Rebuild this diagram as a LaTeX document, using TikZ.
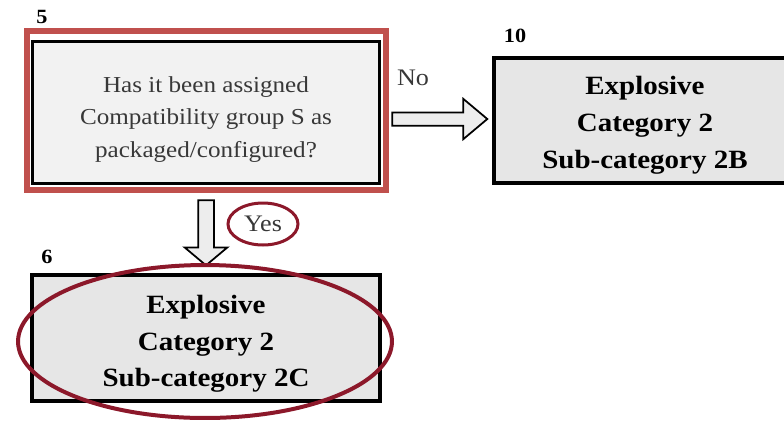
\documentclass[tikz,border=0pt]{standalone}
\usepackage{fontspec}
\setmainfont[FakeStretch=1.1]{Liberation Serif}
\usetikzlibrary{shapes,arrows,positioning,calc}
\definecolor{boxred}{RGB}{192,80,77}
\definecolor{ringred}{RGB}{140,24,42}
\definecolor{paleg}{RGB}{242,242,242}
\definecolor{boxg}{RGB}{230,230,230}
\newcommand{\lowtext}[1]{\rule{0pt}{#1}}

\begin{document}
\begin{tikzpicture}[x=0.02cm, y=-0.02cm,
  box/.style={rectangle,draw,line width=0.08cm,fill=boxg,align=center,font=\fontsize{15}{21}\selectfont\bfseries},
  ask/.style={rectangle,draw,line width=0.06cm,fill=paleg,align=center,text=black!78,font=\fontsize{13}{18.5}\selectfont},
  num/.style={font=\fontsize{11.5}{13}\selectfont\bfseries},
  tag/.style={text=black!78,font=\fontsize{13.5}{16}\selectfont},
  bigarrow/.style={single arrow,draw,fill=black!7,line width=0.035cm,inner xsep=0pt,single arrow head extend=0.27cm},
  ring/.style={ellipse,draw=ringred}]
\useasboundingbox (0,0) rectangle (784,424);
\clip (0,0) rectangle (784,424);
% question box 5 with its red frame
\draw[boxred,line width=0.12cm] (27,31) rectangle (386,190);
\node[ask,minimum width=6.96cm,minimum height=2.86cm] (ask5) at (206,112.5)
  {\lowtext{17pt}Has it been assigned\\Compatibility group S as\\packaged/configured?};
\node[num] (n5) at (42,17) {5};
% outcome boxes
\node[box,minimum width=6.04cm,minimum height=2.5cm] (cat2b) at (645,120.5)
  {\lowtext{16pt}Explosive\\Category 2\\Sub-category 2B};
\node[num] (n10) at (515,36) {10};
\node[box,minimum width=6.96cm,minimum height=2.52cm] (cat2c) at (206,338)
  {\lowtext{17pt}Explosive\\Category 2\\Sub-category 2C};
\node[num] (n6) at (47,257) {6};
% block arrows
\node[bigarrow,inner ysep=0.115cm,minimum height=1.9cm,single arrow tip angle=80,anchor=tail] (noarr) at ($(ask5.east)+(10,6.5)$) {};
\node[tag] (no) at (413,78) {No};
\node[bigarrow,inner ysep=0.14cm,minimum height=1.3cm,single arrow tip angle=100,rotate=-90,anchor=tail] (yesarr) at ($(ask5.south)+(0,14)$) {};
\node[ring,tag,line width=0.06cm,minimum width=1.4cm,minimum height=0.84cm,inner sep=0pt] (yes) at (263,224) {Yes};
% highlight ring round box 6
\node[ring,line width=0.08cm,minimum width=7.48cm,minimum height=3.06cm] (ring6) at (205,341.5) {};
\end{tikzpicture}
\end{document}
